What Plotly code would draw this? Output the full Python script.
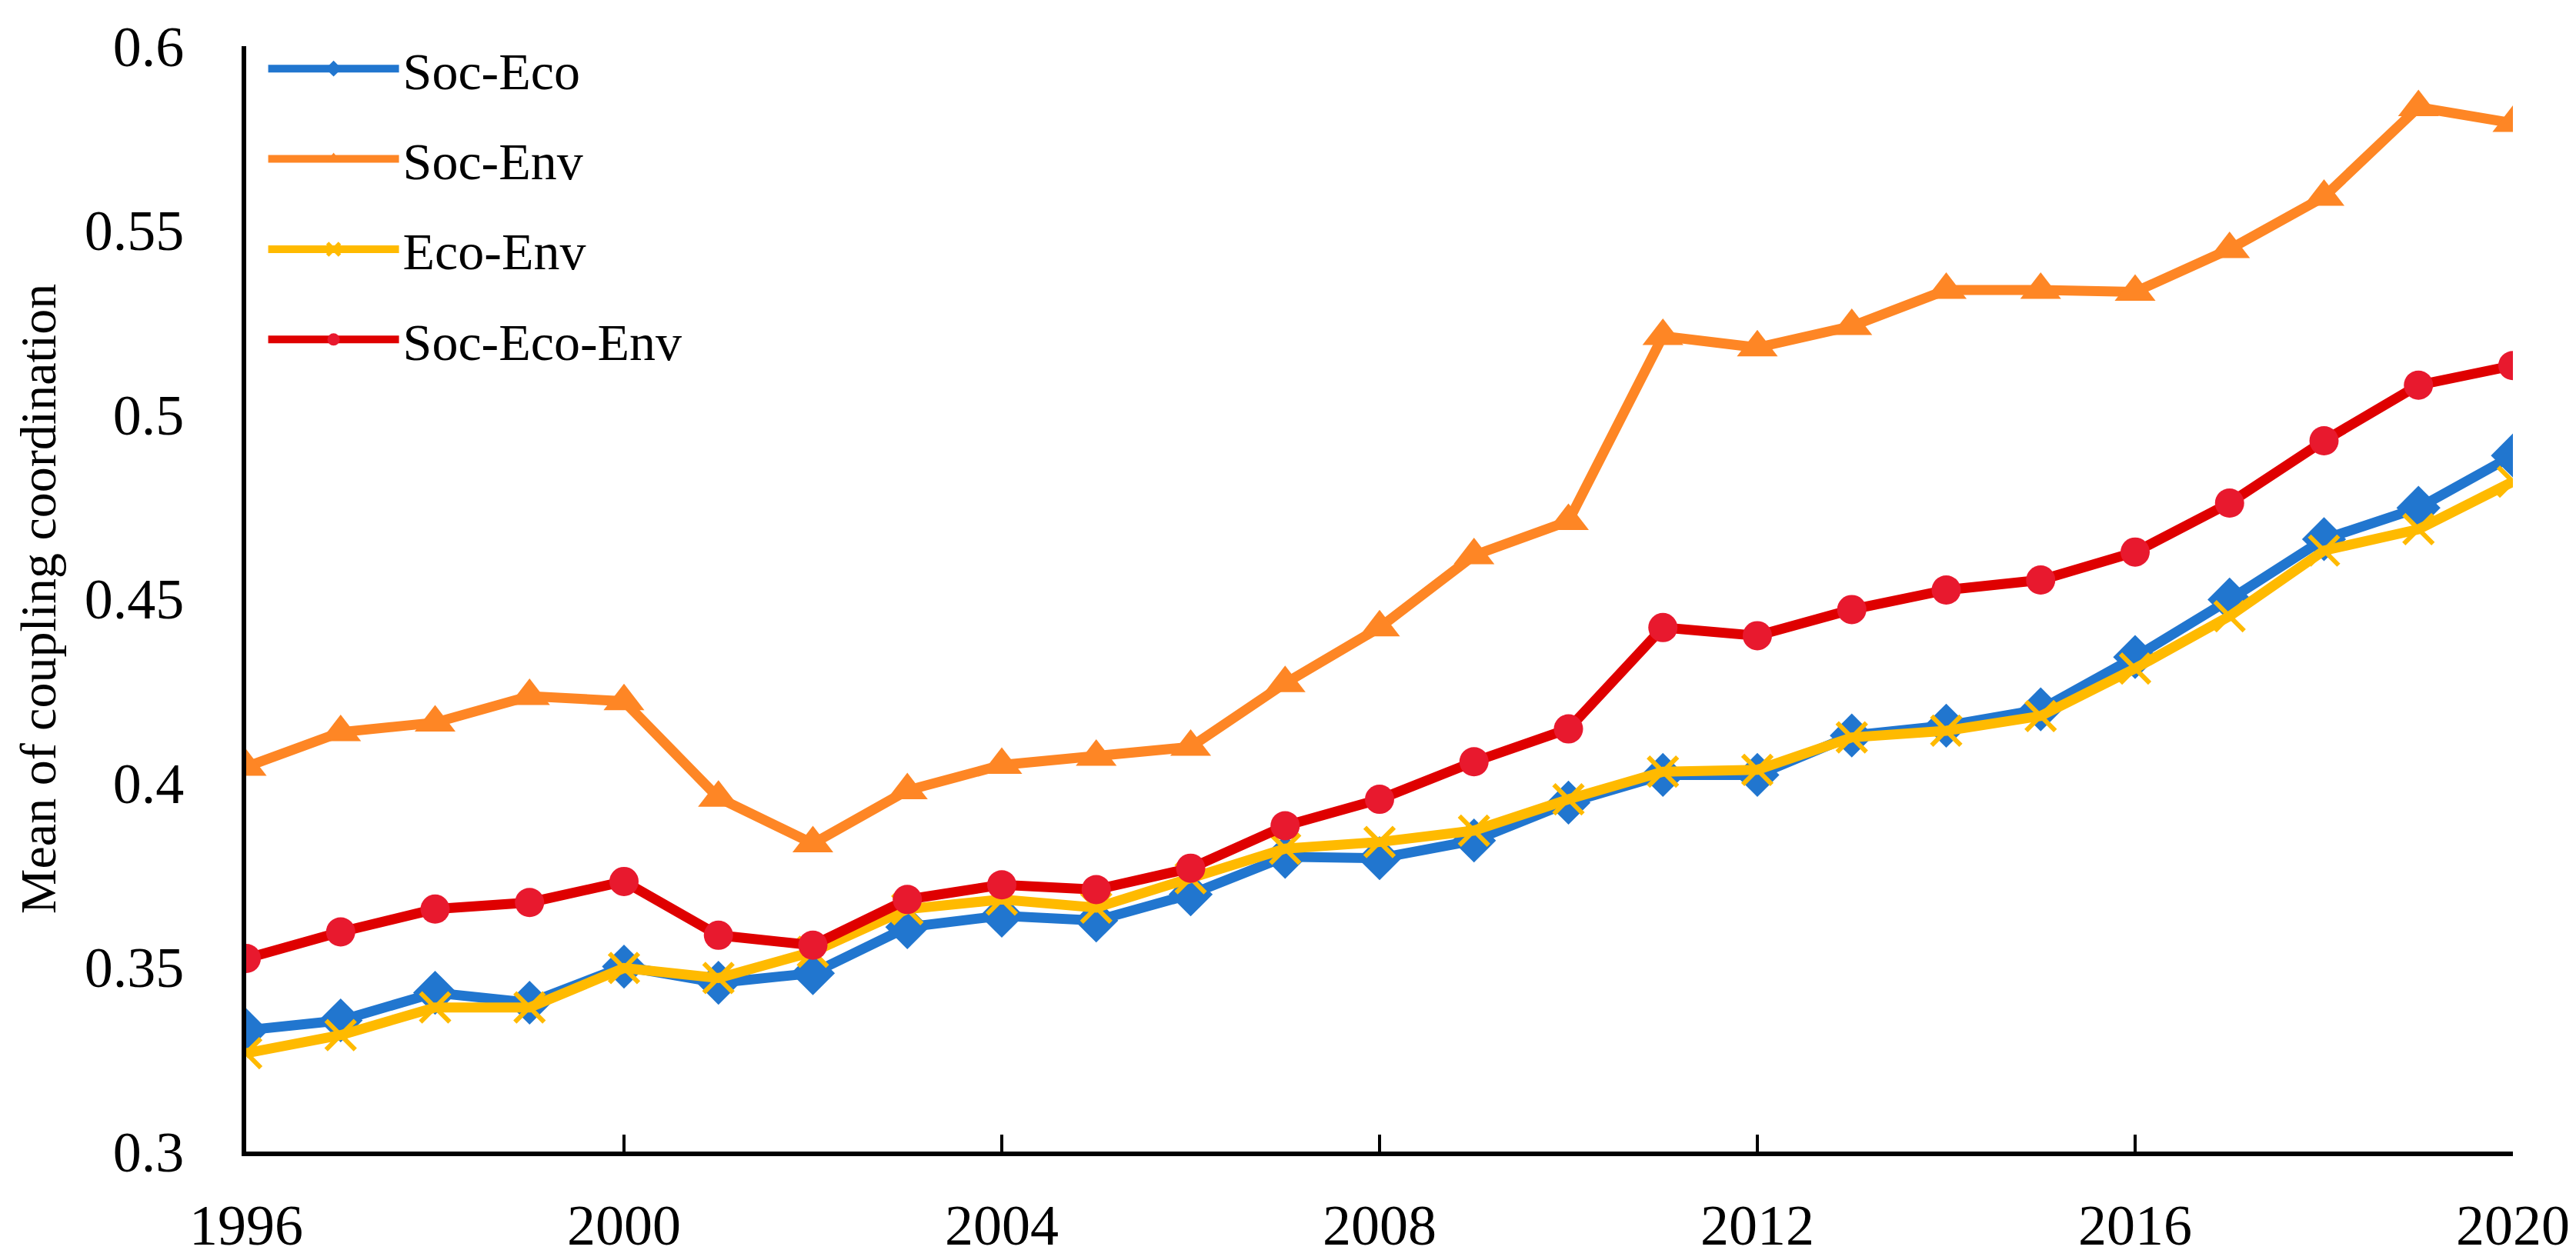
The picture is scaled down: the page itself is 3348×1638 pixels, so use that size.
import plotly.graph_objects as go

years = list(range(1996, 2021))

soc_eco = [0.3329, 0.3356, 0.3431, 0.3404, 0.3502, 0.3458, 0.3484, 0.3609, 0.3640, 0.3627,
           0.3698, 0.3800, 0.3796, 0.3844, 0.3947, 0.4022, 0.4022, 0.4129, 0.4156, 0.4200,
           0.4342, 0.4498, 0.4662, 0.4747, 0.4889]
soc_env = [0.4044, 0.4138, 0.4164, 0.4236, 0.4222, 0.3960, 0.3836, 0.3980, 0.4049, 0.4071,
           0.4098, 0.4271, 0.4422, 0.4618, 0.4711, 0.5213, 0.5182, 0.5240, 0.5338, 0.5338,
           0.5333, 0.5449, 0.5591, 0.5834, 0.5791]
eco_env = [0.3267, 0.3316, 0.3391, 0.3391, 0.3498, 0.3471, 0.3542, 0.3658, 0.3684, 0.3662,
           0.3742, 0.3822, 0.3840, 0.3871, 0.3956, 0.4031, 0.4036, 0.4124, 0.4142, 0.4182,
           0.4311, 0.4453, 0.4631, 0.4689, 0.4818]
soc_eco_env = [0.3524, 0.3596, 0.3658, 0.3676, 0.3733, 0.3587, 0.3560, 0.3684, 0.3724, 0.3711,
               0.3769, 0.3884, 0.3956, 0.4058, 0.4147, 0.4422, 0.4400, 0.4471, 0.4524, 0.4551,
               0.4627, 0.4760, 0.4929, 0.5080, 0.5133]

x_ticks = [1996, 2000, 2004, 2008, 2012, 2016, 2020]
y_ticks = [0.3, 0.35, 0.4, 0.45, 0.5, 0.55, 0.6]
y_tick_labels = ["0.3", "0.35", "0.4", "0.45", "0.5", "0.55", "0.6"]

FONT = "Liberation Serif, Times New Roman, serif"

fig = go.Figure()

fig.add_trace(go.Scatter(
    x=years, y=soc_eco, name="Soc-Eco", mode="lines+markers", legendgroup="a",
    line=dict(color="#2176CF", width=13),
    marker=dict(symbol="diamond", size=44, color="#2176CF", line=dict(width=0)),
))
fig.add_trace(go.Scatter(
    x=years, y=soc_env, name="Soc-Env", mode="lines+markers", legendgroup="b",
    line=dict(color="#FE8625", width=13),
    marker=dict(symbol="triangle-up", size=46, color="#FE8625", line=dict(width=0)),
))
fig.add_trace(go.Scatter(
    x=years, y=eco_env, name="Eco-Env", mode="lines+markers", legendgroup="c",
    line=dict(color="#FFBA00", width=13),
    marker=dict(symbol="x-thin", size=38, color="#FFBA00", line=dict(width=6, color="#FFBA00")),
))
fig.add_trace(go.Scatter(
    x=years, y=soc_eco_env, name="Soc-Eco-Env", mode="lines+markers", legendgroup="d",
    line=dict(color="#DF0000", width=13),
    marker=dict(symbol="circle", size=38, color="#E8192E", line=dict(width=0)),
))

fig.update_layout(
    width=3348, height=1638, autosize=False,
    paper_bgcolor="white", plot_bgcolor="white",
    margin=dict(l=312, r=90, t=47, b=148),
    font=dict(family=FONT, color="black", size=66),
    showlegend=True,
    legend=dict(
        x=0.008, y=1.015, xanchor="left", yanchor="top",
        bgcolor="rgba(0,0,0,0)", font=dict(size=68, family=FONT),
        traceorder="grouped", tracegroupgap=26, itemwidth=170,
    ),
    xaxis=dict(
        range=[1996, 2020], tickvals=x_ticks, ticktext=[str(v) for v in x_ticks],
        showgrid=False, zeroline=False,
        showline=True, linecolor="black", linewidth=6,
        ticks="inside", ticklen=22, tickwidth=4, tickcolor="black",
        tickfont=dict(size=74, family=FONT), ticklabelstandoff=26,
    ),
    yaxis=dict(
        range=[0.3, 0.6], tickvals=y_ticks, ticktext=y_tick_labels,
        showgrid=False, zeroline=False,
        showline=True, linecolor="black", linewidth=6,
        ticks="",
        tickfont=dict(size=74, family=FONT), ticklabelstandoff=60,
        title=dict(text="Mean of coupling coordination", font=dict(size=66, family=FONT), standoff=18),
    ),
)

fig.write_html("out.html")
